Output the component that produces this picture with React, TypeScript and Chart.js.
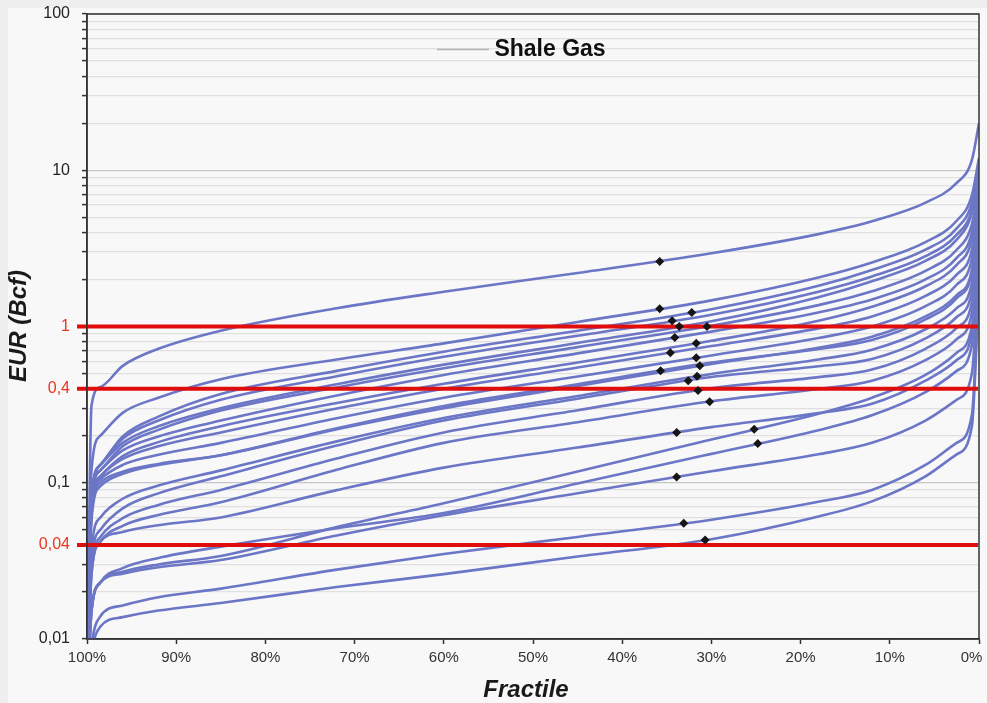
import { useEffect, useRef } from 'react';
import { Chart, registerables } from 'chart.js';

Chart.register(...registerables);

const FONT = "'Liberation Sans', Arial, Helvetica, sans-serif";

// Fractile (exceedance probability, %) at which each curve value was read
const FRACTILES = [100, 99.5, 98.5, 96, 92, 85, 72, 60, 45, 30, 18, 12, 6, 2.5, 0.8, 0];

// EUR (Bcf) curves, top to bottom
const CURVE_01 = [0.004, 0.31, 0.41, 0.56, 0.72, 0.94, 1.31, 1.67, 2.2, 2.94, 3.9, 4.71, 6.2, 8.3, 11.6, 20];
const CURVE_02 = [0.004, 0.12, 0.2, 0.28, 0.35, 0.46, 0.615, 0.78, 1.07, 1.47, 2.06, 2.57, 3.47, 4.75, 6.9, 12];
const CURVE_03 = [0.004, 0.08, 0.13, 0.198, 0.265, 0.37, 0.52, 0.69, 0.94, 1.29, 1.82, 2.3, 3.1, 4.25, 6.2, 11];
const CURVE_04 = [0.004, 0.08, 0.13, 0.191, 0.25, 0.34, 0.48, 0.64, 0.873, 1.19, 1.67, 2.09, 2.82, 3.87, 5.6, 10];
const CURVE_05 = [0.004, 0.08, 0.13, 0.18, 0.23, 0.3, 0.427, 0.57, 0.785, 1.08, 1.54, 1.95, 2.63, 3.6, 5.3, 9];
const CURVE_06 = [0.004, 0.075, 0.12, 0.171, 0.218, 0.29, 0.407, 0.54, 0.738, 1.01, 1.37, 1.68, 2.27, 3.1, 4.5, 8];
const CURVE_07 = [0.004, 0.075, 0.12, 0.161, 0.198, 0.25, 0.362, 0.49, 0.673, 0.927, 1.23, 1.49, 2.0, 2.75, 4.0, 8];
const CURVE_08 = [0.004, 0.068, 0.11, 0.148, 0.182, 0.23, 0.324, 0.43, 0.589, 0.81, 1.09, 1.34, 1.81, 2.48, 3.6, 7];
const CURVE_09 = [0.004, 0.068, 0.11, 0.142, 0.171, 0.21, 0.299, 0.4, 0.547, 0.75, 0.973, 1.16, 1.57, 2.15, 3.1, 6.5];
const CURVE_10 = [0.004, 0.065, 0.105, 0.13, 0.151, 0.18, 0.259, 0.35, 0.478, 0.652, 0.843, 1.0, 1.35, 1.85, 2.7, 6];
const CURVE_11 = [0.004, 0.062, 0.1, 0.1175, 0.132, 0.15, 0.22, 0.3, 0.416, 0.575, 0.731, 0.86, 1.16, 1.59, 2.3, 5.5];
const CURVE_12 = [0.004, 0.058, 0.095, 0.114, 0.13, 0.15, 0.223, 0.31, 0.427, 0.587, 0.718, 0.82, 1.11, 1.52, 2.2, 5];
const CURVE_13 = [0.004, 0.037, 0.06, 0.079, 0.096, 0.12, 0.184, 0.26, 0.359, 0.497, 0.615, 0.71, 0.96, 1.31, 1.9, 5];
const CURVE_14 = [0.004, 0.031, 0.05, 0.0685, 0.0855, 0.11, 0.173, 0.25, 0.345, 0.475, 0.557, 0.62, 0.84, 1.15, 1.67, 4.5];
const CURVE_15 = [0.004, 0.028, 0.045, 0.0593, 0.0721, 0.09, 0.143, 0.21, 0.291, 0.403, 0.474, 0.53, 0.72, 0.98, 1.43, 4];
const CURVE_16 = [0.004, 0.026, 0.042, 0.053, 0.0622, 0.075, 0.121, 0.18, 0.244, 0.332, 0.398, 0.45, 0.61, 0.83, 1.22, 3.5];
const CURVE_17 = [0.004, 0.015, 0.023, 0.0269, 0.03, 0.034, 0.052, 0.074, 0.118, 0.189, 0.276, 0.35, 0.49, 0.68, 1.0, 3.5];
const CURVE_18 = [0.004, 0.026, 0.042, 0.0484, 0.0535, 0.06, 0.0897, 0.125, 0.168, 0.227, 0.279, 0.32, 0.45, 0.61, 0.9, 3];
const CURVE_19 = [0.004, 0.015, 0.023, 0.0284, 0.033, 0.039, 0.0512, 0.064, 0.0989, 0.153, 0.217, 0.27, 0.38, 0.52, 0.76, 3];
const CURVE_20 = [0.004, 0.015, 0.023, 0.0262, 0.0288, 0.032, 0.046, 0.062, 0.0857, 0.1186, 0.152, 0.18, 0.25, 0.34, 0.5, 2.5];
const CURVE_21 = [0.004, 0.009, 0.014, 0.0164, 0.0185, 0.021, 0.0278, 0.035, 0.045, 0.058, 0.0755, 0.09, 0.13, 0.18, 0.27, 2];
const CURVE_22 = [0.004, 0.008, 0.012, 0.0138, 0.0152, 0.017, 0.0215, 0.026, 0.0337, 0.0435, 0.0608, 0.076, 0.11, 0.152, 0.23, 1.8];

const CURVES = [
  CURVE_01, CURVE_02, CURVE_03, CURVE_04, CURVE_05, CURVE_06, CURVE_07, CURVE_08,
  CURVE_09, CURVE_10, CURVE_11, CURVE_12, CURVE_13, CURVE_14, CURVE_15, CURVE_16,
  CURVE_17, CURVE_18, CURVE_19, CURVE_20, CURVE_21, CURVE_22,
];

// Mean markers (diamonds)
const DIAMOND_FRACTILE = [35.8, 35.8, 32.2, 34.4, 33.6, 30.5, 34.1, 31.7, 34.6, 31.7, 31.3, 35.7, 31.6, 32.6, 31.5, 30.2, 25.2, 33.9, 24.8, 33.9, 33.1, 30.7];
const DIAMOND_EUR = [2.61, 1.3, 1.23, 1.09, 1.0, 1.0, 0.85, 0.78, 0.68, 0.63, 0.56, 0.52, 0.48, 0.45, 0.39, 0.33, 0.22, 0.21, 0.178, 0.109, 0.055, 0.043];

// Axis ticks
const Y_TICK_VALUES = [100, 10, 1, 0.4, 0.1, 0.04, 0.01];
const Y_TICK_TEXT = ['100', '10', '1', '0,4', '0,1', '0,04', '0,01'];
const Y_MAJOR = [100, 10, 1, 0.1, 0.01];
const RED_LEVELS = [1, 0.4, 0.04];
const X_TICKS = [100, 90, 80, 70, 60, 50, 40, 30, 20, 10, 0];

const TITLE = 'Shale Gas';
const X_TITLE = 'Fractile';
const Y_TITLE = 'EUR (Bcf)';

const BLUE = 'rgb(108,118,198)';
const RED_LINE = '#e00d0d';
const RED_TEXT = '#e8351f';

const GRID_VALUES: number[] = [];
for (let e = -2; e <= 1; e++) {
  for (let m = 1; m <= 9; m++) GRID_VALUES.push(m * Math.pow(10, e));
}
GRID_VALUES.push(100);

const same = (a: number, b: number) => Math.abs(Math.log10(a) - Math.log10(b)) < 1e-6;
const isIn = (v: number, list: number[]) => list.some((t) => same(v, t));

const decor = {
  id: 'decor',
  beforeDatasetDraw(chart: any, args: any) {
    if (args.index !== 0) return;
    const { ctx, chartArea } = chart;
    const y = chart.scales.y;
    ctx.save();
    ctx.strokeStyle = RED_LINE;
    ctx.lineWidth = 4;
    RED_LEVELS.forEach((v) => {
      const py = y.getPixelForValue(v);
      ctx.beginPath();
      ctx.moveTo(chartArea.left - 10, py);
      ctx.lineTo(chartArea.right - 1, py);
      ctx.stroke();
    });
    ctx.restore();
  },
  afterDraw(chart: any) {
    const { ctx, chartArea } = chart;
    ctx.save();
    ctx.strokeStyle = '#333';
    ctx.lineWidth = 1.5;
    ctx.strokeRect(chartArea.left, chartArea.top, chartArea.right - chartArea.left, chartArea.bottom - chartArea.top);

    // legend-like line near title
    ctx.strokeStyle = '#b4b4b4';
    ctx.lineWidth = 1.5;
    ctx.beginPath();
    ctx.moveTo(429, 49.5);
    ctx.lineTo(481, 49.5);
    ctx.stroke();

    ctx.fillStyle = '#111';
    ctx.textAlign = 'center';
    ctx.textBaseline = 'middle';
    ctx.font = `bold 23px ${FONT}`;
    ctx.fillText(TITLE, 542, 50);

    ctx.fillStyle = '#1a1a1a';
    ctx.font = `italic bold 24px ${FONT}`;
    ctx.fillText(X_TITLE, 518, 690);

    ctx.translate(11, 326);
    ctx.rotate(-Math.PI / 2);
    ctx.fillText(Y_TITLE, 0, 0);
    ctx.restore();
  },
};

export default function App() {
  const ref = useRef<HTMLCanvasElement>(null);

  useEffect(() => {
    const canvas = ref.current;
    if (!canvas) return;
    Chart.defaults.font.family = FONT;

    const lineSets = CURVES.map((c, i) => ({
      type: 'line' as const,
      label: `curve ${i + 1}`,
      data: FRACTILES.map((x, j) => ({ x, y: c[j] })),
      borderColor: BLUE,
      borderWidth: 2.6,
      pointRadius: 0,
      fill: false,
      cubicInterpolationMode: 'monotone' as const,
      order: 1,
    }));

    const chart = new Chart(canvas, {
      type: 'line',
      data: {
        datasets: [
          {
            type: 'scatter' as const,
            label: 'mean',
            data: DIAMOND_FRACTILE.map((x, i) => ({ x, y: DIAMOND_EUR[i] })),
            pointStyle: 'rectRot',
            pointRadius: 4.5,
            backgroundColor: '#151515',
            borderColor: '#151515',
            borderWidth: 0,
            showLine: false,
            order: 0,
          } as any,
          ...lineSets,
        ],
      },
      options: {
        animation: false,
        responsive: false,
        maintainAspectRatio: false,
        layout: { padding: { top: 14, right: 8, left: 0, bottom: 0 } },
        plugins: {
          legend: { display: false },
          tooltip: { enabled: false },
          title: { display: false },
        },
        scales: {
          x: {
            type: 'linear',
            min: 0,
            max: 100,
            reverse: true,
            afterFit: (s: any) => {
              s.height = 64;
              s.paddingLeft = 0;
              s.paddingRight = 0;
            },
            afterBuildTicks: (s: any) => {
              s.ticks = X_TICKS.map((v) => ({ value: v }));
            },
            ticks: {
              callback: (v: any) => (Number(v) === 0 ? `${v}%\u2002\u2002` : `${v}%`),
              color: '#333',
              font: { family: FONT, size: 15 },
              padding: 5,
              maxRotation: 0,
              autoSkip: false,
            },
            grid: {
              drawOnChartArea: false,
              drawTicks: true,
              tickLength: 5,
              tickColor: '#333',
              tickWidth: 1.5,
            },
            border: { color: '#333', width: 1.5 },
          },
          y: {
            type: 'logarithmic',
            min: 0.01,
            max: 100,
            afterFit: (s: any) => {
              s.width = 79;
              s.paddingTop = 0;
              s.paddingBottom = 0;
            },
            afterBuildTicks: (s: any) => {
              s.ticks = GRID_VALUES.map((v) => ({ value: v }));
            },
            ticks: {
              autoSkip: false,
              callback: (v: any) => {
                const i = Y_TICK_VALUES.findIndex((t) => same(Number(v), t));
                return i >= 0 ? Y_TICK_TEXT[i] : '';
              },
              color: (c: any) => (isIn(c.tick.value, RED_LEVELS) ? RED_TEXT : '#222'),
              font: { family: FONT, size: 16 },
              padding: 12,
            },
            grid: {
              color: (c: any) => (c.tick && isIn(c.tick.value, Y_MAJOR) ? '#c6c6c6' : '#e0e0e0'),
              lineWidth: 1.2,
              drawTicks: true,
              tickLength: 5,
              tickColor: '#333',
              tickWidth: 1.5,
            },
            border: { color: '#333', width: 1.5 },
          },
        },
      } as any,
      plugins: [decor],
    });

    return () => chart.destroy();
  }, []);

  return (
    <div style={{ position: 'fixed', left: 0, top: 0, width: 987, height: 703, background: '#eeeeee', overflow: 'hidden' }}>
      <div style={{ position: 'absolute', left: 8, top: 8, width: 979, height: 695, background: '#f8f8f8' }} />
      <canvas
        ref={ref}
        width={979}
        height={703}
        style={{ position: 'absolute', left: 8, top: 0, display: 'block', width: 979, height: 703 }}
      />
    </div>
  );
}
